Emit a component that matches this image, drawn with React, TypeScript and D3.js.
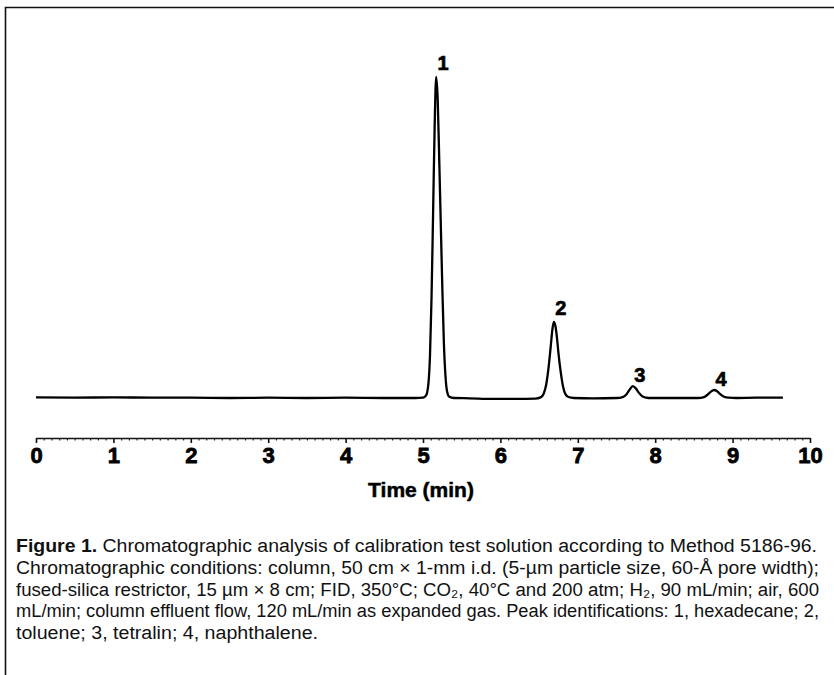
import * as d3 from "d3";
import { useRef, useEffect } from "react";

// trace: time (min) and detector signal (peak 1 = 100)
const traceTime = [
  0, 0.5, 1, 1.5, 2, 2.5, 3, 3.5, 4, 4.5, 4.9, 5.0, 5.04, 5.07, 5.09, 5.11, 5.13, 5.15, 5.17,
  5.19, 5.21, 5.23, 5.25, 5.27, 5.29, 5.31, 5.34, 5.4, 5.6, 5.9, 6.2, 6.45, 6.52, 6.56, 6.59,
  6.62, 6.65, 6.67, 6.69, 6.71, 6.73, 6.75, 6.78, 6.81, 6.84, 6.88, 6.95, 7.2, 7.5, 7.58, 7.63,
  7.67, 7.71, 7.75, 7.79, 7.83, 7.88, 7.95, 8.2, 8.55, 8.63, 8.68, 8.72, 8.76, 8.8, 8.84, 8.89,
  8.95, 9.05, 9.3, 9.65,
];
const traceSignal = [
  0.2, 0.1, 0.2, 0.1, 0.1, 0.0, 0.1, 0.0, 0.1, 0.0, 0.0, 0.1, 0.8, 4.5, 13, 31, 57, 84, 100,
  93, 74, 54, 34, 17, 7, 2.2, 0.4, 0, -0.1, -0.3, -0.3, -0.2, 0.2, 1.4, 4, 9, 16, 21, 23.7,
  22.5, 19, 14, 8, 3.5, 1.2, 0.3, 0, -0.1, 0, 0.3, 1.2, 2.6, 3.7, 3.0, 1.6, 0.6, 0.15, 0, 0,
  0, 0.3, 1.1, 2.0, 2.5, 2.1, 1.2, 0.4, 0.1, 0, 0.1, 0.1,
];

const peakIds = ["1", "2", "3", "4"];
const peakTimes = [5.17, 6.69, 7.71, 8.76];
const peakSignals = [100, 23.7, 3.7, 2.5];

const majorTicks = [0, 1, 2, 3, 4, 5, 6, 7, 8, 9, 10];
const axisTitle = "Time (min)";

const captionLines = [
  "Chromatographic conditions: column, 50 cm × 1-mm i.d. (5-µm particle size, 60-Å pore width);",
  "fused-silica restrictor, 15 µm × 8 cm; FID, 350°C; CO₂, 40°C and 200 atm; H₂, 90 mL/min; air, 600",
  "mL/min; column effluent flow, 120 mL/min as expanded gas. Peak identifications: 1, hexadecane; 2,",
  "toluene; 3, tetralin; 4, naphthalene.",
];
const captionHead = "Figure 1.";
const captionFirst = " Chromatographic analysis of calibration test solution according to Method 5186-96.";

const width = 834;
const height = 675;
const boldFont = "'Liberation Sans', Arial, sans-serif";
const captionFont = "'Liberation Sans', Arial, sans-serif";

export default function App() {
  const gx = useRef<SVGGElement>(null);
  const gxMinor = useRef<SVGGElement>(null);

  const x = d3.scaleLinear().domain([0, 10]).range([36, 810]);
  const y = d3.scaleLinear().domain([0, 100]).range([398, 77]);
  const axisY = 438;

  const line = d3
    .line<number>()
    .x((d, i) => x(traceTime[i]))
    .y((d) => y(d))
    .curve(d3.curveMonotoneX);

  useEffect(() => {
    const axis = d3
      .axisBottom(x)
      .tickValues(majorTicks)
      .tickSize(5)
      .tickSizeOuter(0)
      .tickPadding(4)
      .tickFormat((d) => String(d));
    const g = d3.select(gx.current!);
    g.call(axis);
    g.select(".domain").attr("stroke", "#111").attr("stroke-width", 1.6);
    g.selectAll(".tick line").attr("stroke", "#111").attr("stroke-width", 1.6);
    g.selectAll(".tick text")
      .attr("font-family", boldFont)
      .attr("font-weight", "bold")
      .attr("font-size", 22)
      .attr("fill", "#000")
      .attr("stroke", "#000")
      .attr("stroke-width", 0.8);

    const minor = d3
      .axisBottom(x)
      .tickValues(d3.range(0, 100).map((i) => i / 10).filter((v) => v % 1 !== 0))
      .tickSize(2.5)
      .tickSizeOuter(0)
      .tickFormat(() => "");
    const gm = d3.select(gxMinor.current!);
    gm.call(minor);
    gm.select(".domain").remove();
    gm.selectAll(".tick line").attr("stroke", "#222").attr("stroke-width", 1.2);
  }, []);

  return (
    <svg
      width={width}
      height={height}
      style={{ position: "absolute", left: 0, top: 0, background: "#fff" }}
    >
      {/* frame */}
      <path d={`M${width},7.5 H5.5 V${height}`} fill="none" stroke="#111" strokeWidth="1.6" />

      <path d={line(traceSignal) ?? ""} fill="none" stroke="#000" strokeWidth="2.3" strokeLinejoin="round" />

      {peakIds.map((id, i) => (
        <text
          key={id}
          x={x(peakTimes[i]) + 7}
          y={y(peakSignals[i]) - (i < 2 ? 7 : 4)}
          textAnchor="middle"
          fontFamily={boldFont}
          fontWeight="bold"
          fontSize="20"
          fill="#000"
          stroke="#000"
          strokeWidth="0.7"
        >
          {id}
        </text>
      ))}

      <g ref={gx} transform={`translate(0,${axisY})`} />
      <g ref={gxMinor} transform={`translate(0,${axisY})`} />

      <text
        x={421}
        y={497}
        textAnchor="middle"
        fontFamily={boldFont}
        fontWeight="bold"
        fontSize="21"
        fill="#000"
        stroke="#000"
        strokeWidth="0.5"
      >
        {axisTitle}
      </text>

      <g fontFamily={captionFont} fontSize="18" fill="#111">
        <text x={16} y={552} textLength={801} lengthAdjust="spacingAndGlyphs">
          <tspan fontWeight="bold">{captionHead}</tspan>
          <tspan>{captionFirst}</tspan>
        </text>
        {captionLines.map((l, i) => (
          <text
            key={i}
            x={16}
            y={574 + i * 21.7}
            textLength={i < 3 ? 803 : 302}
            lengthAdjust="spacingAndGlyphs"
          >
            {l}
          </text>
        ))}
      </g>
    </svg>
  );
}
